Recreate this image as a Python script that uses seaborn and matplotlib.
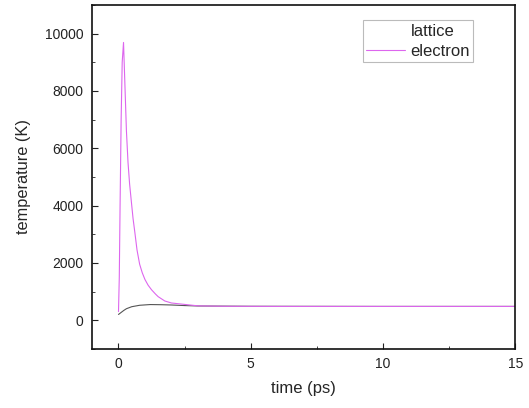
import matplotlib
matplotlib.use("Agg")
import matplotlib.pyplot as plt
from matplotlib.ticker import MultipleLocator
import seaborn as sns
import pandas as pd

# ---- data ----
time_electron = [0.0, 0.03, 0.06, 0.1, 0.14, 0.19, 0.25, 0.3, 0.36, 0.42, 0.49, 0.55,
                 0.62, 0.7, 0.8, 0.9, 1.0, 1.12, 1.25, 1.4, 1.5, 1.75, 2.0, 2.3, 2.6,
                 3.0, 4.0, 6.0, 10.0, 15.0]
electron = [300, 1500, 4000, 7000, 9000, 9690, 8000, 6600, 5500, 4750, 4100, 3550,
            3050, 2450, 1950, 1650, 1420, 1220, 1060, 910, 820, 670, 600, 570, 540,
            500, 485, 480, 480, 480]
time_lattice = [0.0, 0.1, 0.2, 0.3, 0.5, 0.8, 1.2, 1.6, 2.0, 2.5, 3.0, 5.0, 10.0, 15.0]
lattice = [200, 270, 340, 400, 470, 520, 545, 540, 530, 510, 495, 485, 480, 480]

df = pd.concat([
    pd.DataFrame({"time": time_lattice, "T": lattice, "series": "lattice"}),
    pd.DataFrame({"time": time_electron, "T": electron, "series": "electron"}),
])

sns.set_style("ticks")
plt.rcParams["font.family"] = ["Liberation Sans", "DejaVu Sans"]

fig = plt.figure(figsize=(5.29, 4.08), dpi=100)
ax = fig.add_axes([0.174, 0.145, 0.800, 0.843])

sns.lineplot(data=df, x="time", y="T", hue="series",
             palette={"lattice": "#555555", "electron": "#dd66ee"},
             estimator=None, sort=False, ax=ax, linewidth=0.8)
for line in ax.get_lines():
    if line.get_label() == "lattice":
        line.set_linestyle((0, (4, 2)))
        line.set_linewidth(0.6)

ax.set_xlim(-1, 15)
ax.set_ylim(-1000, 11000)
ax.xaxis.set_major_locator(MultipleLocator(5))
ax.xaxis.set_minor_locator(MultipleLocator(2.5))
ax.yaxis.set_major_locator(MultipleLocator(2000))
ax.yaxis.set_minor_locator(MultipleLocator(1000))
ax.set_yticks([0, 2000, 4000, 6000, 8000, 10000])
ax.tick_params(which="major", direction="in", length=4, width=0.8, labelsize=10,
               colors="#222222", pad=6)
ax.tick_params(which="minor", direction="in", length=2, width=0.6)
for s in ax.spines.values():
    s.set_linewidth(1.2)
    s.set_color("#111111")

ax.set_xlabel("time (ps)", fontsize=12, labelpad=7)
ax.set_ylabel("temperature (K)", fontsize=11.8, labelpad=10)

leg = ax.legend(loc="upper left", bbox_to_anchor=(0.64, 0.955), fontsize=12,
                frameon=True, fancybox=False, edgecolor="#aaaaaa",
                handlelength=2.35, borderpad=0.2, labelspacing=0.3, handletextpad=0.3,
                borderaxespad=0)
leg.get_frame().set_linewidth(0.8)
for h, t in zip(leg.get_lines(), leg.get_texts()):
    if t.get_text() == "lattice":
        h.set_alpha(0)

fig.savefig("out.png", dpi=100)
